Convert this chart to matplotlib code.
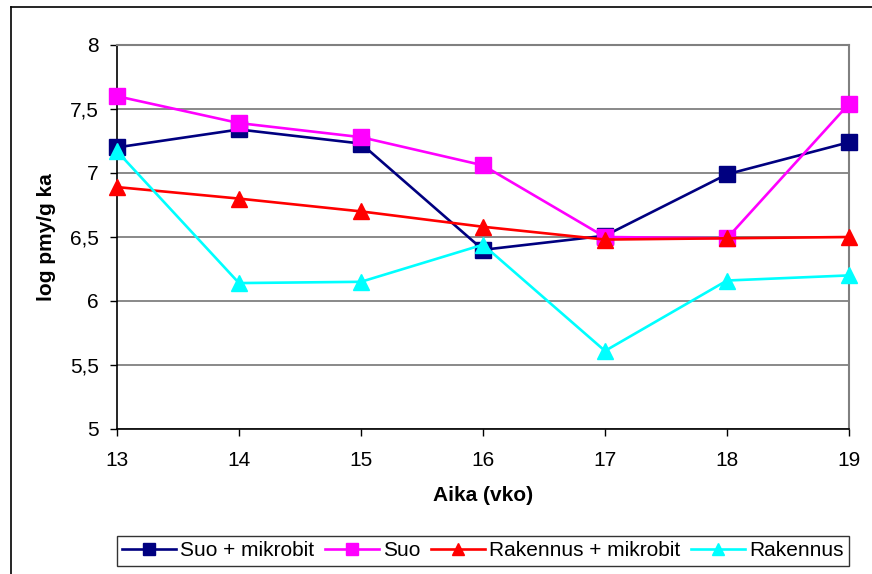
import matplotlib
matplotlib.use("Agg")
import matplotlib.pyplot as plt
from matplotlib.lines import Line2D
from matplotlib.ticker import FuncFormatter

plt.rcParams['font.family'] = ['Liberation Sans', 'DejaVu Sans']

# viikot ja mittaustulokset
weeks = [13, 14, 15, 16, 17, 18, 19]
suo_mikrobit = [7.20, 7.34, 7.23, 6.40, 6.51, 6.99, 7.24]
suo = [7.60, 7.39, 7.28, 7.06, 6.50, 6.49, 7.54]
rakennus_mikrobit = [6.89, 6.80, 6.70, 6.58, 6.48, 6.49, 6.50]
rakennus = [7.17, 6.14, 6.15, 6.44, 5.61, 6.16, 6.20]

series = [
    ("Suo + mikrobit", suo_mikrobit, "#000080", "s"),
    ("Suo", suo, "#FF00FF", "s"),
    ("Rakennus + mikrobit", rakennus_mikrobit, "#FF0000", "^"),
    ("Rakennus", rakennus, "#00FFFF", "^"),
]

W, H = 872, 574
fig = plt.figure(figsize=(W / 100, H / 100), dpi=100)
ax = fig.add_axes([117 / W, 1 - 429 / H, (849 - 117) / W, (429 - 45) / H])

for name, vals, col, mk in series:
    ax.plot(weeks, vals, color=col, marker=mk, markersize=11, linewidth=1.9,
            label=name, clip_on=False, zorder=3)

ax.set_xlim(13, 19)
ax.set_ylim(5, 8)
ax.set_xticks(weeks)
ax.set_yticks([5, 5.5, 6, 6.5, 7, 7.5, 8])
ax.yaxis.set_major_formatter(FuncFormatter(lambda v, p: f"{v:g}".replace(".", ",")))
ax.tick_params(labelsize=15, length=5, width=1, color="black", direction="out")
ax.tick_params(axis="x", pad=11)
ax.tick_params(axis="y", pad=8)
ax.grid(axis="y", color="#808080", linewidth=1.3)
ax.set_axisbelow(True)
for side in ("top", "right"):
    ax.spines[side].set_color("#808080")
    ax.spines[side].set_linewidth(1.5)
for side in ("left", "bottom"):
    ax.spines[side].set_color("black")
    ax.spines[side].set_linewidth(1.2)

ax.set_ylabel("log pmy/g ka", fontsize=15, fontweight="bold")
ax.yaxis.set_label_coords((56 - 117) / 732, 0.5)
ax.set_xlabel("Aika (vko)", fontsize=15, fontweight="bold")
ax.xaxis.set_label_coords(0.5, (429 - 486) / 384)

leg = fig.legend(loc="center", bbox_to_anchor=(483 / W, 1 - 551 / H), ncol=4,
                 fontsize=15, frameon=True, fancybox=False, edgecolor="black",
                 markerscale=0.75, handlelength=2.6, handletextpad=0.2,
                 columnspacing=0.5, borderpad=0.25, borderaxespad=0)
leg.get_frame().set_linewidth(1.0)

# kaavion ulkoreunus
fig.add_artist(Line2D([11 / W, 11 / W], [0, 1 - 7 / H], color="black", linewidth=1.2,
                      transform=fig.transFigure))
fig.add_artist(Line2D([11 / W, 1], [1 - 7 / H, 1 - 7 / H], color="black", linewidth=1.2,
                      transform=fig.transFigure))

fig.savefig("out.png", dpi=100)
